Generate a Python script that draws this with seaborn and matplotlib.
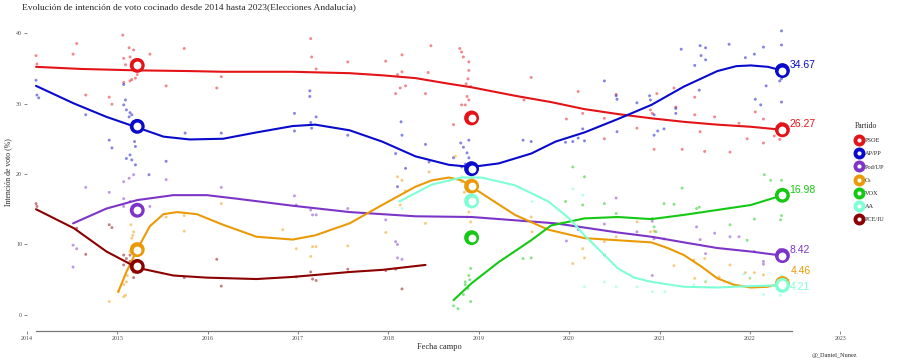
import pandas as pd
import matplotlib.pyplot as plt
import seaborn as sns
from matplotlib.lines import Line2D

partidos = ["PSOE", "AP/PP", "Pod/UP", "Cs", "VOX", "AA", "PCE/IU"]
colores = ["#E41318", "#0A0ACD", "#7D35C8", "#EA9A06", "#14C814", "#7FFFD4", "#8B0000"]

# encuestas: fecha de campo en años decimales, intención de voto en %
psoe_t = [2014.10, 2014.11, 2014.51, 2014.55, 2014.65, 2014.91, 2014.94, 2015.06, 2015.07, 2015.07,
          2015.09, 2015.13, 2015.14, 2015.14, 2015.16, 2015.16, 2015.18, 2015.18, 2015.20, 2015.22,
          2015.36, 2015.54, 2015.74, 2016.10, 2016.15,
          2017.14, 2017.15, 2017.20, 2017.55, 2017.97, 2018.08, 2018.10, 2018.13, 2018.15, 2018.15,
          2018.19, 2018.41, 2018.44, 2018.47, 2018.72, 2018.79, 2018.81, 2018.81, 2018.83, 2018.85,
          2018.86, 2018.87, 2018.88, 2018.89, 2018.89, 2018.89, 2018.91, 2019.50, 2019.58,
          2019.97, 2020.10, 2020.15, 2020.39, 2020.39, 2020.52, 2020.75, 2020.90, 2020.92, 2020.94,
          2020.97, 2021.16, 2021.18, 2021.25, 2021.39, 2021.39, 2021.45, 2021.50, 2021.61, 2021.78,
          2021.88, 2021.97, 2022.06, 2022.15, 2022.15, 2022.27, 2022.33, 2022.34]
psoe_v = [36.8, 35.6, 37.0, 38.5, 31.2, 30.9, 29.9, 39.7, 36.4, 33.0,
          35.5, 37.9, 36.6, 33.2, 35.9, 33.4, 37.6, 35.0, 33.6, 34.1,
          37.0, 32.5, 37.8, 32.2, 33.8,
          39.2, 36.6, 34.9, 35.9, 36.0, 31.4, 34.1, 32.2, 36.9, 34.5,
          32.5, 31.4, 34.4, 38.2, 27.0, 37.8, 37.3, 29.8, 36.6, 29.8,
          32.8, 31.0, 33.5, 35.9, 34.7, 30.5, 32.4, 30.5, 33.7,
          27.8, 31.7, 28.6, 27.9, 25.0, 31.3, 26.5, 29.1, 28.6, 23.5,
          31.4, 32.2, 29.5, 23.5, 30.9, 28.4, 26.0, 23.2, 28.1, 23.1,
          27.2, 25.0, 28.8, 27.8, 24.4, 25.4, 24.9, 27.2]

pp_t = [2014.10, 2014.11, 2014.13, 2014.65, 2014.91, 2014.94, 2015.07, 2015.09, 2015.07, 2015.10,
        2015.14, 2015.16, 2015.13, 2015.18, 2015.18, 2015.20, 2015.19, 2015.20, 2015.14, 2015.10,
        2015.16, 2015.20, 2015.35, 2015.54, 2015.75, 2016.15,
        2016.96, 2016.96, 2017.13, 2017.13, 2017.14, 2017.15, 2017.20, 2017.55, 2018.08, 2018.10,
        2018.14, 2018.15, 2018.19, 2018.41, 2018.45, 2018.72, 2018.80, 2018.81, 2018.83, 2018.85,
        2018.87, 2018.89, 2018.89, 2018.91, 2019.49, 2019.58,
        2019.96, 2020.04, 2020.10, 2020.15, 2020.17, 2020.39, 2020.52, 2020.53, 2020.53, 2020.75,
        2020.89, 2020.90, 2020.94, 2020.94, 2020.98, 2021.05, 2021.18, 2021.18, 2021.24, 2021.39,
        2021.44, 2021.45, 2021.46, 2021.51, 2021.51, 2021.77, 2021.95, 2022.05, 2022.06, 2022.12,
        2022.15, 2022.18, 2022.33, 2022.35, 2022.35, 2022.35, 2022.35]
pp_v = [33.3, 31.2, 30.8, 28.4, 24.8, 23.7, 32.7, 30.5, 29.8, 29.1,
        28.7, 28.4, 28.1, 27.4, 26.9, 26.0, 24.6, 23.9, 22.7, 22.2,
        22.0, 21.3, 19.9, 21.8, 25.8, 25.8,
        28.6, 26.1, 31.8, 31.0, 27.3, 26.5, 28.1, 25.5, 22.9, 18.2,
        27.4, 25.5, 20.8, 24.2, 21.7, 22.3, 24.4, 21.0, 23.8, 21.4,
        23.0, 22.3, 24.8, 21.6, 24.8, 24.6,
        24.5, 24.6, 25.1, 26.4, 24.7, 33.2, 31.1, 30.6, 26.0, 30.1,
        31.1, 30.5, 28.4, 25.5, 26.1, 26.4, 29.3, 28.6, 37.7, 35.4,
        31.9, 38.2, 36.8, 37.9, 36.2, 38.4, 36.5, 37.0, 30.6, 29.8,
        38.0, 32.5, 33.2, 40.3, 38.3, 33.5, 30.2]

pod_t = [2014.51, 2014.55, 2014.51, 2014.65, 2014.91, 2015.07, 2015.07, 2015.07, 2015.13, 2015.14,
         2015.18, 2015.36, 2015.54, 2016.15,
         2016.96, 2016.98, 2017.14, 2017.16, 2017.20, 2017.55, 2017.97, 2018.08, 2018.10, 2018.10,
         2018.15,
         2019.97, 2020.10, 2020.39, 2020.39, 2020.52, 2020.75, 2020.92, 2020.92, 2020.94, 2021.05,
         2021.41, 2021.45, 2021.51, 2021.61, 2021.78, 2021.88, 2022.05, 2022.15, 2022.15, 2022.33,
         2022.35]
pod_v = [9.9, 9.4, 6.8, 18.1, 17.4, 18.9, 16.5, 15.4, 19.4, 16.1,
         19.9, 15.4, 19.2, 18.1,
         16.9, 15.6, 14.9, 14.2, 14.2, 15.1, 13.5, 10.4, 10.0, 8.1,
         7.9,
         10.5, 12.1, 12.9, 8.5, 16.6, 11.8, 13.3, 5.6, 10.8, 10.8,
         12.5, 10.7, 8.7, 11.6, 11.1, 11.1, 9.0, 7.6, 7.2, 9.3,
         8.3]

cs_t = [2014.91, 2015.01, 2015.07, 2015.07, 2015.09, 2015.10, 2015.11, 2015.14, 2015.16, 2015.18,
        2015.15, 2015.17, 2015.54, 2015.74, 2015.74, 2016.15,
        2016.83, 2016.98, 2017.14, 2017.16, 2017.20, 2017.55, 2017.97, 2018.10, 2018.13, 2018.15,
        2018.19, 2018.41, 2018.45, 2018.74, 2018.81, 2018.84, 2018.87, 2018.89, 2018.91, 2019.58,
        2019.59,
        2020.04, 2020.15, 2020.17, 2020.39, 2020.52, 2020.75, 2020.90, 2020.94, 2021.16, 2021.38,
        2021.39, 2021.50, 2021.51, 2021.66, 2021.78, 2021.95, 2022.00, 2022.05, 2022.15, 2022.34,
        2022.35]
cs_v = [1.9, 3.3, 4.3, 2.6, 2.8, 4.7, 5.6, 9.0, 10.9, 11.8,
        12.8, 11.3, 13.9, 14.1, 11.9, 15.8,
        12.1, 9.4, 8.3, 9.7, 9.7, 9.8, 11.7, 19.6, 15.6, 19.1,
        17.6, 13.0, 20.3, 22.5, 18.9, 17.4, 13.9, 14.6, 13.2, 13.9,
        11.8,
        7.3, 9.4, 8.1, 10.4, 11.1, 13.2, 11.8, 11.9, 7.0, 7.8,
        5.2, 8.0, 4.7, 5.4, 7.1, 6.0, 5.2, 6.0, 5.7, 5.0,
        3.8]

vox_t = [2018.72, 2018.77, 2018.83, 2018.85, 2018.85, 2018.88, 2018.89, 2018.90, 2018.91, 2018.91,
         2019.49, 2019.58,
         2019.96, 2020.04, 2020.15, 2020.17, 2020.39, 2020.52, 2020.92, 2020.94, 2020.96, 2021.05,
         2021.16, 2021.25, 2021.41, 2021.44, 2021.78, 2021.97, 2022.05, 2022.16, 2022.23, 2022.34,
         2022.34, 2022.35, 2022.35]
vox_v = [1.3, 0.9, 2.9, 4.7, 4.3, 3.8, 5.6, 5.0, 6.6, 1.9,
         8.0, 8.1,
         16.1, 21.0, 15.6, 19.6, 15.8, 14.4, 13.7, 12.5, 11.8, 15.8,
         15.7, 18.0, 15.1, 15.3, 12.8, 10.6, 13.6, 19.9, 19.1, 17.7,
         13.5, 19.1, 14.1]

aa_t = [2018.15, 2018.81, 2018.85, 2018.87, 2018.89, 2018.91, 2019.59,
        2020.04, 2020.15, 2020.17, 2020.39, 2020.52, 2020.75, 2020.92, 2021.06, 2021.38, 2021.51,
        2021.77, 2021.93, 2022.00, 2022.15, 2022.34, 2022.35]
aa_v = [15.1, 19.6, 18.9, 16.6, 18.0, 16.1, 16.1,
        17.9, 17.0, 4.0, 4.7, 4.0, 4.0, 3.3, 3.3, 4.3, 4.8,
        4.7, 5.8, 5.3, 2.9, 2.8, 5.6]

iu_t = [2014.10, 2014.11, 2014.55, 2014.65, 2014.91, 2014.94, 2015.07, 2015.07, 2015.10, 2015.14,
        2015.14, 2015.16, 2015.18, 2015.18, 2015.74, 2016.10, 2016.15,
        2016.98, 2017.14, 2017.16, 2017.20, 2017.55, 2017.97, 2018.08, 2018.15]
iu_v = [15.8, 15.4, 12.3, 8.6, 12.8, 12.4, 8.5, 7.1, 8.0, 7.6,
        8.5, 7.0, 6.1, 5.3, 5.3, 7.9, 4.1,
        5.4, 6.1, 5.1, 4.9, 6.5, 6.3, 6.5, 3.7]

# curvas suavizadas
psoe_ct = [2014.10, 2014.60, 2015.22, 2015.80, 2016.17, 2016.94, 2017.57, 2017.93, 2018.30, 2018.67,
           2018.92, 2019.40, 2019.80, 2020.17, 2020.54, 2020.91, 2021.27, 2021.64, 2022.01, 2022.36]
psoe_cv = [35.2, 34.9, 34.7, 34.6, 34.5, 34.5, 34.3, 34.0, 33.6, 32.8,
           32.3, 31.1, 30.2, 29.2, 28.5, 27.9, 27.4, 27.0, 26.7, 26.27]
pp_ct = [2014.10, 2014.52, 2014.88, 2015.22, 2015.51, 2015.80, 2016.17, 2016.54, 2016.94, 2017.19,
         2017.57, 2017.93, 2018.30, 2018.67, 2018.92, 2019.22, 2019.58, 2019.85, 2020.17, 2020.54,
         2020.91, 2021.27, 2021.64, 2021.85, 2022.01, 2022.20, 2022.36]
pp_cv = [32.5, 30.0, 28.1, 26.6, 25.3, 24.9, 25.0, 25.9, 26.8, 27.0,
         26.2, 24.6, 22.5, 21.3, 21.0, 21.5, 22.9, 24.6, 25.9, 27.8,
         29.8, 32.4, 34.6, 35.3, 35.4, 35.2, 34.67]
pod_ct = [2014.51, 2014.88, 2015.22, 2015.62, 2015.99, 2016.32, 2016.94, 2017.57, 2018.30, 2018.92,
          2019.85, 2020.17, 2020.54, 2020.91, 2021.27, 2021.64, 2022.01, 2022.36]
pod_cv = [13.0, 15.1, 16.3, 17.0, 17.0, 16.5, 15.5, 14.6, 14.0, 13.9,
          13.0, 12.4, 11.7, 11.1, 10.3, 9.5, 9.0, 8.42]
cs_ct = [2015.01, 2015.10, 2015.22, 2015.36, 2015.51, 2015.66, 2015.88, 2016.17, 2016.54, 2016.94,
         2017.19, 2017.57, 2017.93, 2018.30, 2018.48, 2018.67, 2018.81, 2018.92, 2019.11, 2019.40,
         2019.77, 2020.17, 2020.54, 2020.91, 2021.09, 2021.27, 2021.46, 2021.64, 2021.82, 2022.01,
         2022.19, 2022.36]
cs_cv = [3.3, 6.1, 9.3, 12.6, 14.3, 14.6, 14.3, 12.8, 11.1, 10.7,
         11.3, 13.0, 15.6, 18.2, 19.1, 19.5, 19.1, 18.2, 16.6, 14.2,
         12.1, 10.9, 10.6, 10.3, 9.5, 8.5, 6.9, 5.2, 4.3, 3.9,
         4.0, 4.46]
vox_ct = [2018.72, 2018.92, 2019.22, 2019.58, 2019.80, 2020.17, 2020.54, 2020.91, 2021.27, 2021.64,
          2022.01, 2022.36]
vox_cv = [2.1, 4.5, 7.5, 10.6, 12.7, 13.7, 13.9, 13.6, 14.2, 14.9,
          15.6, 16.98]
aa_ct = [2018.12, 2018.48, 2018.81, 2019.03, 2019.40, 2019.77, 2020.00, 2020.17, 2020.36, 2020.54,
         2020.72, 2020.91, 2021.27, 2021.64, 2022.01, 2022.36]
aa_cv = [16.1, 18.5, 19.5, 19.5, 18.4, 16.1, 13.7, 11.3, 8.9, 6.6,
         5.3, 4.7, 4.0, 3.9, 4.1, 4.21]
iu_ct = [2014.10, 2014.52, 2014.88, 2015.22, 2015.62, 2015.99, 2016.54, 2016.94, 2017.57, 2017.93,
         2018.41]
iu_cv = [15.0, 12.3, 9.0, 6.7, 5.6, 5.3, 5.1, 5.4, 6.1, 6.4,
         7.1]

# resultados electorales
elec_2015_fecha = 2015.22
elec_2015_partidos = ["PSOE", "AP/PP", "Pod/UP", "Cs", "PCE/IU"]
elec_2015_voto = [35.41, 26.76, 14.86, 9.28, 6.89]
elec_2018_fecha = 2018.92
elec_2018_partidos = ["PSOE", "AP/PP", "Cs", "AA", "VOX"]
elec_2018_voto = [27.95, 20.75, 18.28, 16.18, 10.97]
elec_2022_fecha = 2022.47


def tabla(series):
    filas = []
    for partido, (t, v) in series.items():
        filas += [(partido, a, b) for a, b in zip(t, v)]
    return pd.DataFrame(filas, columns=["partido", "fecha", "voto"])


encuestas = tabla({"PSOE": (psoe_t, psoe_v), "AP/PP": (pp_t, pp_v), "Pod/UP": (pod_t, pod_v),
                   "Cs": (cs_t, cs_v), "VOX": (vox_t, vox_v), "AA": (aa_t, aa_v),
                   "PCE/IU": (iu_t, iu_v)})
curvas = tabla({"PSOE": (psoe_ct, psoe_cv), "AP/PP": (pp_ct, pp_cv), "Pod/UP": (pod_ct, pod_cv),
                "Cs": (cs_ct, cs_cv), "VOX": (vox_ct, vox_cv), "AA": (aa_ct, aa_cv),
                "PCE/IU": (iu_ct, iu_cv)})
ultimos = curvas[curvas["partido"] != "PCE/IU"].groupby("partido").tail(1)
circulos = pd.concat([
    pd.DataFrame({"partido": elec_2015_partidos, "fecha": elec_2015_fecha, "voto": elec_2015_voto}),
    pd.DataFrame({"partido": elec_2018_partidos, "fecha": elec_2018_fecha, "voto": elec_2018_voto}),
    ultimos,
], ignore_index=True)

pal = dict(zip(partidos, colores))

sns.set_style("ticks")
plt.rcParams["font.family"] = ["Liberation Serif", "DejaVu Serif"]

fig = plt.figure(figsize=(9, 3.64), dpi=100)
ax = fig.add_axes([27 / 900, 1 - 331 / 364, 821 / 900, 314 / 364])

sns.scatterplot(data=encuestas, x="fecha", y="voto", hue="partido", hue_order=partidos,
                palette=pal, s=4.5, alpha=0.5, linewidth=0, legend=False, ax=ax)
sns.lineplot(data=curvas, x="fecha", y="voto", hue="partido", hue_order=partidos,
             palette=pal, linewidth=1.5, estimator=None, legend=False, ax=ax)
sns.scatterplot(data=circulos, x="fecha", y="voto", hue="partido", hue_order=partidos,
                palette=pal, s=115, linewidth=0, legend=False, ax=ax, zorder=5)
sns.scatterplot(data=circulos, x="fecha", y="voto", color="white", s=32, linewidth=0,
                legend=False, ax=ax, zorder=6)

# etiquetas finales
desplaz = {"AP/PP": (5, 4), "PSOE": (5, 4), "VOX": (5, 4), "Pod/UP": (5, 4),
           "Cs": (6, 9), "AA": (5, -1)}
for _, fila in ultimos.iterrows():
    p = fila["partido"]
    dx, dy = desplaz[p]
    flecha = dict(arrowstyle="-", color=pal[p], lw=0.6, shrinkA=0, shrinkB=4) if p == "Cs" else None
    ax.annotate(f"{fila['voto']:.2f}", (fila["fecha"], fila["voto"]), xytext=(dx, dy),
                textcoords="offset points", ha="left", va="center", color=pal[p],
                fontsize=7.5, family=["Liberation Sans", "DejaVu Sans"], zorder=7,
                arrowprops=flecha)

ax.set_xlim(2014.044, 2023.086)
ax.set_ylim(-2.27, 42.27)
ax.set_xticks(range(2014, 2024))
ax.set_xticklabels([str(a) for a in range(2014, 2024)])
ax.set_yticks([0, 10, 20, 30, 40])
ax.set_xlabel("")
ax.set_ylabel("")
ax.tick_params(axis="both", labelsize=4.3, length=2, width=0.5, color="#555555",
               labelcolor="#4d4d4d", pad=1.5)
for lado in ["top", "right", "left"]:
    ax.spines[lado].set_visible(False)
ax.spines["bottom"].set_color("#777777")
ax.spines["bottom"].set_linewidth(0.9)
ax.spines["bottom"].set_bounds(encuestas["fecha"].min(), elec_2022_fecha)

fig.text(22 / 900, 1 - 7 / 364, "Evolución de intención de voto cocinado desde 2014 hasta 2023(Elecciones Andalucía)",
         fontsize=6.8, ha="left", va="center")
fig.text(8 / 900, 1 - 172 / 364, "Intención de voto (%)", rotation=90, fontsize=5.6,
         ha="center", va="center")
fig.text(439 / 900, 1 - 347 / 364, "Fecha campo", fontsize=6, ha="center", va="center")
fig.text(857 / 900, 1 - 355 / 364, "@_Daniel_Nunez", fontsize=4.5, ha="right", va="center")

manejadores = [(Line2D([], [], marker="o", ls="", color=c, ms=7.6),
                Line2D([], [], marker="o", ls="", color="white", ms=2))
               for c in colores]
leg = ax.legend(manejadores, partidos, title="Partido", loc="upper left",
                bbox_to_anchor=(852 / 900, 1 - 119 / 364), bbox_transform=fig.transFigure,
                frameon=False, fontsize=4.5, title_fontsize=5.6, labelspacing=1.25,
                handlelength=1.1, handletextpad=0.5, borderpad=0, alignment="left")

fig.savefig("out.png", dpi=100)
